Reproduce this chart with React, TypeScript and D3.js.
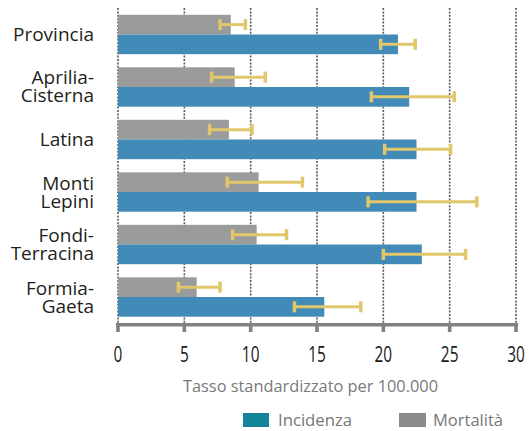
import React from "react";
import * as d3 from "d3";

const categories = ["Provincia", "Aprilia-\nCisterna", "Latina", "Monti\nLepini", "Fondi-\nTerracina", "Formia-\nGaeta"];
const incidenza = [21.1, 21.95, 22.5, 22.5, 22.9, 15.55];
const incidenzaLow = [19.8, 19.1, 20.1, 18.85, 20.0, 13.3];
const incidenzaHigh = [22.4, 25.35, 25.07, 27.05, 26.2, 18.3];
const mortalita = [8.5, 8.8, 8.36, 10.6, 10.45, 5.93];
const mortalitaLow = [7.7, 7.06, 6.9, 8.24, 8.64, 4.55];
const mortalitaHigh = [9.6, 11.1, 10.1, 13.9, 12.7, 7.69];
const xTicks = [0, 5, 10, 15, 20, 25, 30];
const axisTitle = "Tasso standardizzato per 100.000";
const legendLabels = ["Incidenza", "Mortalità"];

const W = 530;
const H = 431;
const BLUE = "#428ab7";
const GRAY = "#9a9b9b";
const ERR = "#e2c66b";
const FONT = "'Open Sans', sans-serif";

export default function App() {
  const x = d3.scaleLinear().domain([0, 30]).range([118, 516]);
  const y = d3.scaleBand<string>().domain(categories).range([8.5, 323]).paddingInner(0.25).paddingOuter(0.12);
  const bw = y.bandwidth() / 2;
  const axisY = 323;

  const errBar = (lo: number, hi: number, cy: number, key: string) => (
    <g key={key}>
      <line x1={x(lo)} x2={x(hi)} y1={cy} y2={cy} stroke={ERR} strokeWidth={3} />
      <line x1={x(lo)} x2={x(lo)} y1={cy - 5.5} y2={cy + 5.5} stroke={ERR} strokeWidth={3.5} />
      <line x1={x(hi)} x2={x(hi)} y1={cy - 5.5} y2={cy + 5.5} stroke={ERR} strokeWidth={3.5} />
    </g>
  );

  return (
    <svg width={W} height={H} style={{ position: "absolute", left: 0, top: 0, background: "#fff" }}>
      {/* gridlines */}
      {xTicks.map((t) => (
        <line key={"g" + t} x1={x(t)} x2={x(t)} y1={8} y2={axisY} stroke="#5a5a5a" strokeWidth={1.6} strokeDasharray="2 1.4" />
      ))}
      {/* bars */}
      {categories.map((c, i) => {
        const y0 = y(c)!;
        return (
          <g key={"b" + i}>
            <rect x={x(0)} y={y0} width={x(mortalita[i]) - x(0)} height={bw} fill={GRAY} />
            <rect x={x(0)} y={y0 + bw} width={x(incidenza[i]) - x(0)} height={bw} fill={BLUE} />
          </g>
        );
      })}
      {/* error bars */}
      {categories.map((c, i) => {
        const y0 = y(c)!;
        return (
          <g key={"e" + i}>
            {errBar(mortalitaLow[i], mortalitaHigh[i], y0 + bw / 2, "m")}
            {errBar(incidenzaLow[i], incidenzaHigh[i], y0 + bw * 1.5, "n")}
          </g>
        );
      })}
      {/* category labels */}
      {categories.map((c, i) => {
        const lines = c.split("\n");
        const cy = y(c)! + y.bandwidth() / 2;
        const lh = 18;
        const start = cy + 6.5 - ((lines.length - 1) * lh) / 2;
        return (
          <text key={"l" + i} x={94} textAnchor="end" fontFamily={FONT} fontSize={19} fill="#231f20">
            {lines.map((ln, j) => (
              <tspan key={j} x={94} y={start + j * lh}>{ln}</tspan>
            ))}
          </text>
        );
      })}
      {/* axis */}
      <rect x={116} y={axisY} width={402} height={3.5} fill="#7f8183" />
      {xTicks.map((t) => (
        <rect key={"t" + t} x={x(t) - 1.8} y={axisY} width={3.6} height={9} fill="#7f8183" />
      ))}
      {xTicks.map((t) => {
        const s = String(t);
        return (
          <text key={"tl" + t} x={x(t)} y={361.5} textAnchor="middle" fontFamily={FONT} fontSize={22} fill="#1a1a1a"
            textLength={s.length * 8.8} lengthAdjust="spacingAndGlyphs">{s}</text>
        );
      })}
      <text x={310.5} y={392} textAnchor="middle" fontFamily={FONT} fontSize={16} fill="#7a7a7a"
        textLength={255} lengthAdjust="spacingAndGlyphs">{axisTitle}</text>
      {/* legend */}
      <rect x={243} y={413} width={26} height={14} fill="#15849a" />
      <text x={278} y={426} fontFamily={FONT} fontSize={16} fill="#777" textLength={74} lengthAdjust="spacingAndGlyphs">{legendLabels[0]}</text>
      <rect x={399} y={413} width={27} height={14} fill="#8a8b8d" />
      <text x={433} y={426} fontFamily={FONT} fontSize={16} fill="#777" textLength={70} lengthAdjust="spacingAndGlyphs">{legendLabels[1]}</text>
    </svg>
  );
}
